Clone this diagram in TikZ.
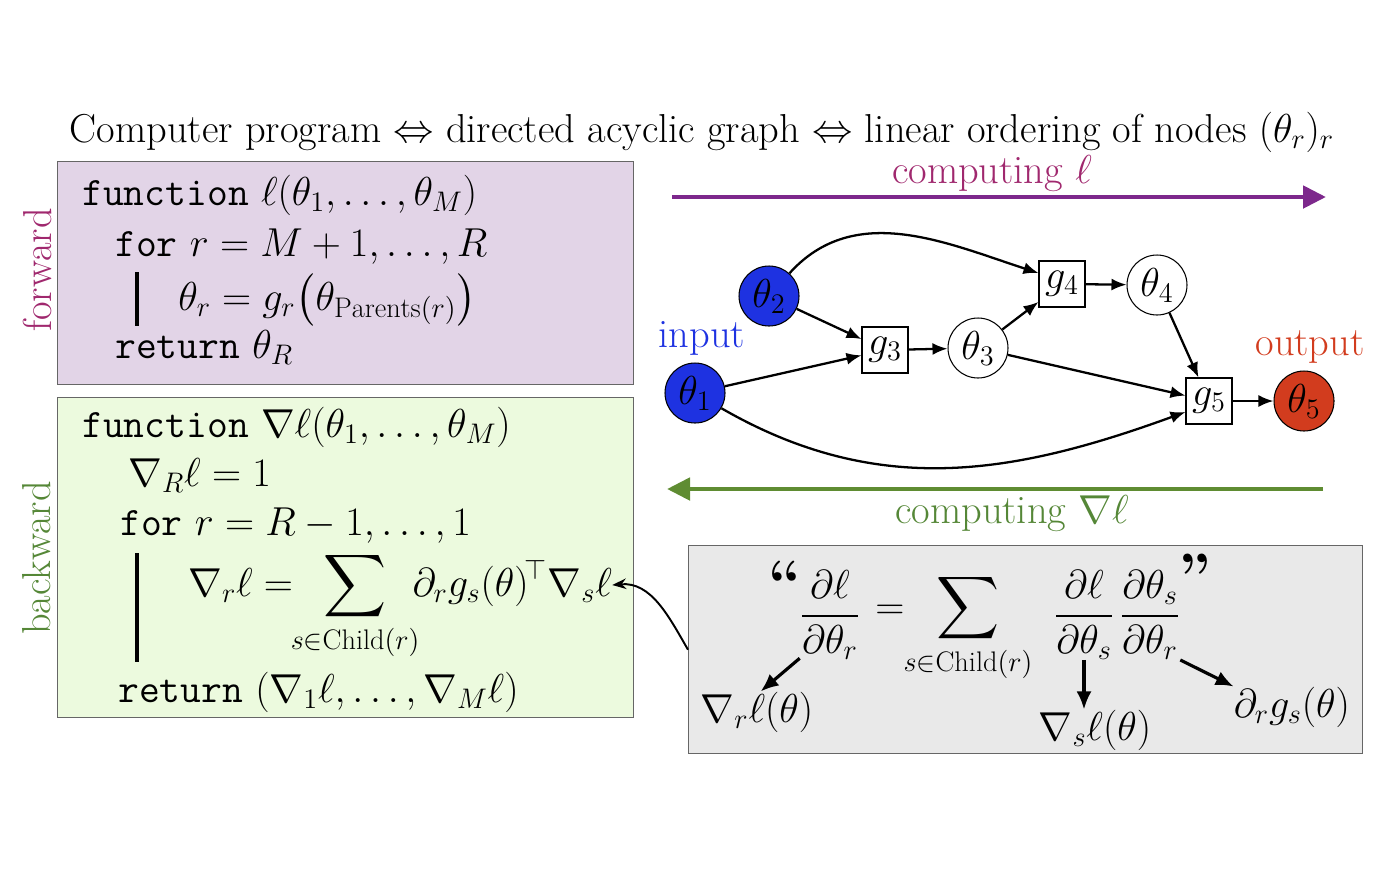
\RequirePackage{fix-cm}
\documentclass[tikz,border=0pt]{standalone}
\usepackage{amsmath}
\usepackage{fontspec}
\usetikzlibrary{arrows.meta, positioning, calc}

\definecolor{fwdfill}{RGB}{226,212,231}
\definecolor{bwdfill}{RGB}{236,250,222}
\definecolor{chainfill}{RGB}{233,233,233}
\definecolor{fwdtext}{RGB}{160,40,110}
\definecolor{fwdarrow}{RGB}{125,40,140}
\definecolor{bwdtext}{RGB}{85,135,55}
\definecolor{bwdarrow}{RGB}{95,140,50}
\definecolor{inblue}{RGB}{30,50,225}
\definecolor{outred}{RGB}{210,60,30}

\begin{document}
\begin{tikzpicture}[
    x=0.02cm, y=0.02cm,
    >=Stealth,
    every node/.style={font=\fontsize{23}{27}\selectfont, inner sep=0pt},
    panel/.style={draw=black!60, line width=0.8pt, anchor=north west},
    code/.style={anchor=base west},
    var/.style={draw, circle, minimum size=1.2cm, line width=0.6pt},
    op/.style={draw, rectangle, minimum size=0.92cm, line width=0.6pt},
    edge/.style={-{Latex[length=0.3cm, width=0.24cm]}, line width=1.3pt},
    pointer/.style={-{Latex[length=0.36cm, width=0.3cm]}, line width=1.8pt},
    bigarrow/.style={-{Triangle[length=0.46cm, width=0.44cm]}, line width=2.8pt}
  ]
  \useasboundingbox (0,0) rectangle (1386,-880);

  \node (title) [anchor=base] at (702,-142)
    {Computer program $\Leftrightarrow$ directed acyclic graph $\Leftrightarrow$ linear ordering of nodes $(\theta_r)_r$};

  % forward pass
  \node[panel, fill=fwdfill, minimum width=11.52cm, minimum height=4.46cm] (fwdbox) at (57,-161) {};
  \node[rotate=90, text=fwdtext] (fwd) at (37,-270) {forward};
  \node[code] (f1) at (82,-205) {\texttt{function} $\ell(\theta_1,\dots,\theta_M)$};
  \node[code] (f2) at (115,-256) {\texttt{for} $r=M+1,\dots,R$};
  \node[code] (f3) at (178,-310) {$\theta_r=g_r\bigl(\theta_{\mathrm{Parents}(r)}\bigr)$};
  \node[code] (f4) at (115,-358) {\texttt{return} $\theta_R$};
  \draw[line width=2.3pt] (137,-272) -- (137,-326);

  % backward pass
  \node[panel, fill=bwdfill, minimum width=11.52cm, minimum height=6.4cm] (bwdbox) at (57,-397) {};
  \node[rotate=90, text=bwdtext] (bwd) at (37,-558) {backward};
  \node[code] (b1) at (82,-437) {\texttt{function} $\nabla\ell(\theta_1,\dots,\theta_M)$};
  \node[code] (b2) at (128,-486) {$\nabla_R\ell=1$};
  \node[code] (b3) at (120,-535) {\texttt{for} $r=R-1,\dots,1$};
  \node[code] (upd) at (188,-596)
    {$\displaystyle\nabla_r\ell=\!\!\sum_{s\in\mathrm{Child}(r)}\!\!\partial_r g_s(\theta)^{\!\top}$};
  \node[code] (gsl) at (upd.base east) {$\nabla_s\ell$};
  \draw[line width=2.3pt] (137,-553) -- (137,-662);
  \node[code] (b5) at (118,-702) {\texttt{return} $(\nabla_1\ell,\dots,\nabla_M\ell)$};

  % direction arrows
  \coordinate (fwdA) at (672,-197);
  \coordinate (fwdB) at (1326,-197);
  \draw[bigarrow, fwdarrow] (fwdA) -- (fwdB);
  \node[text=fwdtext] (fwdlbl) at (992,-174) {computing $\ell$};
  \coordinate (bwdA) at (1323,-489);
  \coordinate (bwdB) at (667,-489);
  \draw[bigarrow, bwdarrow] (bwdA) -- (bwdB);
  \node[text=bwdtext] (bwdlbl) at (1012,-514) {computing $\nabla\ell$};

  % graph
  \node[var, fill=inblue] (t1) at (695,-393) {$\theta_1$};
  \node[var, fill=inblue] (t2) at (769,-296) {$\theta_2$};
  \node[op] (g3) at (885,-350) {$g_3$};
  \node[var] (t3) at (978,-348) {$\theta_3$};
  \node[op] (g4) at (1062,-284) {$g_4$};
  \node[var] (t4) at (1157,-285) {$\theta_4$};
  \node[op] (g5) at (1209,-401) {$g_5$};
  \node[var, fill=outred] (t5) at (1304,-401) {$\theta_5$};
  \node[text=inblue] (inlbl) at (702,-338) {input};
  \node[text=outred] (outlbl) at (1310,-347) {output};

  \draw[edge] (t2) to[out=48, in=162] (g4.155);
  \draw[edge] (t2) -- (g3);
  \draw[edge] (t1) -- (g3);
  \draw[edge] (g3) -- (t3);
  \draw[edge] (t3) -- (g4);
  \draw[edge] (g4) -- (t4);
  \draw[edge] (t4) -- (g5);
  \draw[edge] (t3) -- (g5);
  \draw[edge] (t1) to[out=-30, in=200] (g5.205);
  \draw[edge] (g5) -- (t5);

  % chain rule
  \node[panel, fill=chainfill, minimum width=13.48cm, minimum height=4.16cm] (chain) at (688,-545) {};
  \node[font=\fontsize{34}{34}\selectfont\bfseries] (qo) at (785,-582) {``};
  \node (fr) at (830,-615) {$\dfrac{\partial\ell}{\partial\theta_r}$};
  \node (eq) at (890,-612) {$=$};
  \node (sum) at (968,-628) {$\displaystyle\sum_{s\in\mathrm{Child}(r)}$};
  \node (fs) at (1084,-615) {$\dfrac{\partial\ell}{\partial\theta_s}$};
  \node (ft) at (1150,-615) {$\dfrac{\partial\theta_s}{\partial\theta_r}$};
  \node[font=\fontsize{34}{34}\selectfont\bfseries] (qc) at (1195,-575) {''};
  \node (gr) at (757,-712) {$\nabla_r\ell(\theta)$};
  \node (gs) at (1095,-730) {$\nabla_s\ell(\theta)$};
  \node (dg) at (1292,-707) {$\partial_r g_s(\theta)$};
  \draw[pointer] (fr.-125) -- (gr.80);
  \draw[pointer] (fs.south) -- (fs.south |- gs.north);
  \draw[pointer] (ft.south east) -- (dg.north west);

  \draw[->, line width=1.1pt] (chain.west) to[out=120, in=5] (gsl.east);
\end{tikzpicture}
\end{document}
